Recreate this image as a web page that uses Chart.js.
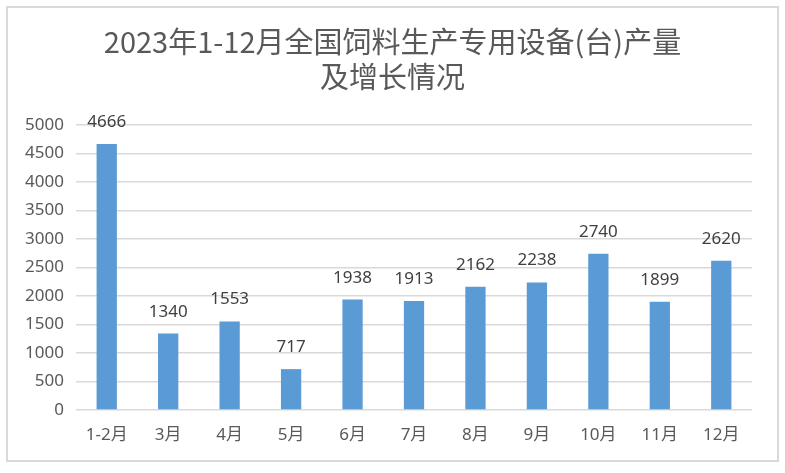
<!DOCTYPE html>
<html>
<head>
<meta charset="utf-8">
<script src="https://cdn.jsdelivr.net/npm/chart.js@4"></script>
<style>
  body { margin: 0; background: #fff; }
  #frame {
    position: absolute;
    left: 6px;
    top: 6px;
    width: 773px;
    height: 456px;
    box-sizing: border-box;
    border: 2px solid #d9d9d9;
  }
</style>
</head>
<body>
<div id="frame"><canvas id="graphic"></canvas></div>
<script>
const titleLines = ["2023年1-12月全国饲料生产专用设备(台)产量", "及增长情况"];
const months = ["1-2月", "3月", "4月", "5月", "6月", "7月", "8月", "9月", "10月", "11月", "12月"];
const output = [4666, 1340, 1553, 717, 1938, 1913, 2162, 2238, 2740, 1899, 2620];

const fontLatin = "'Noto Sans', 'Noto Sans CJK SC', sans-serif";

// value labels above bars
const valueLabels = {
  id: "valueLabels",
  afterDatasetsDraw(chart) {
    const ctx = chart.ctx;
    const meta = chart.getDatasetMeta(0);
    ctx.save();
    ctx.font = "17px " + fontLatin;
    ctx.fillStyle = "#404040";
    ctx.textAlign = "center";
    ctx.textBaseline = "alphabetic";
    meta.data.forEach((bar, i) => {
      ctx.fillText(String(output[i]), bar.x, bar.y - 17);
    });
    ctx.restore();
  },
};

new Chart(document.getElementById("graphic"), {
  type: "bar",
  data: {
    labels: months,
    datasets: [
      {
        label: "产量",
        data: output,
        backgroundColor: "#5b9bd5",
        categoryPercentage: 1,
        barPercentage: 0.33,
      },
    ],
  },
  options: {
    responsive: true,
    maintainAspectRatio: false,
    animation: false,
    layout: {
      padding: 0,
    },
    plugins: {
      legend: { display: false },
      tooltip: { enabled: false },
      title: {
        display: true,
        text: titleLines,
        color: "#595959",
        font: { family: "'Noto Sans CJK SC', sans-serif", size: 29, weight: "normal", lineHeight: 1.207 },
        padding: { top: 16, bottom: 31 },
      },
    },
    scales: {
      x: {
        grid: { display: false, drawTicks: false },
        border: { display: false },
        ticks: {
          color: "#595959",
          font: { family: fontLatin, size: 17 },
          padding: 15,
          maxRotation: 0,
        },
        afterFit(scale) {
          scale.height = 50;
        },
      },
      y: {
        min: 0,
        max: 5000,
        grid: { color: "#d9d9d9", lineWidth: 1.5, drawTicks: false },
        border: { display: false },
        ticks: {
          stepSize: 500,
          color: "#595959",
          font: { family: fontLatin, size: 17 },
          padding: 12,
          callback: (v) => String(v),
        },
        afterFit(scale) {
          scale.width = 68;
        },
      },
      // empty spacer on the right so the plot ends before the frame
      spacer: {
        type: "linear",
        position: "right",
        grid: { display: false, drawTicks: false },
        border: { display: false },
        ticks: { display: false },
        afterFit(scale) {
          scale.width = 25;
        },
      },
    },
  },
  plugins: [valueLabels],
});
</script>
</body>
</html>
